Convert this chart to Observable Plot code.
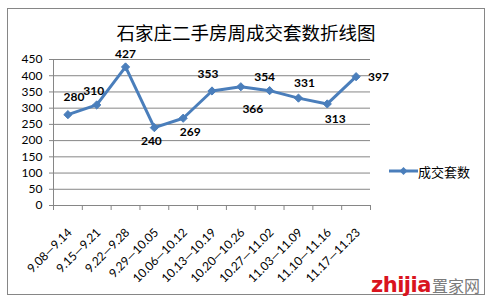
<!DOCTYPE html>
<html><head><meta charset="utf-8">
<script src="https://cdn.jsdelivr.net/npm/d3@7"></script>
<script src="https://cdn.jsdelivr.net/npm/@observablehq/plot@0.6"></script>
<style>
body{margin:0;background:#fff;}
#wrap{position:relative;width:497px;height:306px;overflow:hidden;font-family:Lato,"Noto Sans CJK SC",sans-serif;background:#fff;}
#border{position:absolute;left:7px;top:8px;width:478px;height:287px;border:1px solid #868686;box-sizing:border-box;}
#chart{position:absolute;left:0;top:0;}
#title{position:absolute;left:0;width:492px;text-align:center;top:20px;font-size:18.5px;line-height:24px;font-family:"Noto Sans CJK SC";color:#000;}
#legend{position:absolute;left:389px;top:162px;height:18px;display:flex;align-items:center;font-family:"Noto Sans CJK SC";font-size:13px;color:#000;}
#wm{position:absolute;left:371px;top:266px;height:30px;display:flex;align-items:flex-end;}
#wm .z{font-family:"DejaVu Sans";font-weight:bold;font-size:21px;color:#d9141e;letter-spacing:-0.5px;line-height:22px;}
#wm .c{font-family:"Noto Sans CJK SC";font-size:16px;color:#7a7a7a;line-height:22px;margin-left:1px;}
</style>
</head><body>
<div id="wrap">
  <div id="border"></div>
  <div id="chart"></div>
  <div id="title">石家庄二手房周成交套数折线图</div>
  <div id="legend"><svg width="29" height="10"><line x1="0" y1="5" x2="29" y2="5" stroke="#4A7EBB" stroke-width="3"/><path d="M14.5,1 L18.5,5 L14.5,9 L10.5,5 Z" fill="#4A7EBB"/></svg><span>成交套数</span></div>
  <div id="wm"><span class="z">zhijia</span><span class="c">置家网</span></div>
</div>
<script>
const weeks = ["9.08—9.14","9.15—9.21","9.22—9.28","9.29—10.05","10.06—10.12","10.13—10.19","10.20—10.26","10.27—11.02","11.03—11.09","11.10—11.16","11.17—11.23"];
const deals = [280,310,427,240,269,353,366,354,331,313,397];
const yTicks = [0,50,100,150,200,250,300,350,400,450];
const labelDx = [6,-3,0,-3,7,-4,12,-5,6,8,12];
const labelDy = [-17,-14,-13,14,14,-17,22,-13,-15,15,0];

const rows = weeks.map((w,i)=>({i, week:w, v:deals[i]}));
const boundaries = d3.range(-0.5, weeks.length, 1);
const blue = "#4A7EBB", grey = "#868686";

const labelMarks = rows.map((r,i)=>Plot.text([r], {
  x:"i", y:"v", text:d=>String(d.v),
  dx: labelDx[i], dy: labelDy[i],
  textAnchor: i===rows.length-1 ? "start" : "middle",
  fontWeight:"bold", fontSize:12, fill:"#000"
}));

const chart = Plot.plot({
  width:497, height:306,
  marginLeft:53, marginRight:127, marginTop:59, marginBottom:101,
  style:{fontFamily:"Lato, 'Noto Sans CJK SC', sans-serif", fontSize:"12px", color:"#000", background:"transparent"},
  x:{type:"linear", domain:[-0.5, weeks.length-0.5]},
  y:{domain:[0,450]},
  marks:[
    Plot.gridY({ticks:yTicks, stroke:grey, strokeOpacity:1}),
    Plot.ruleX([-0.5], {stroke:grey}),
    Plot.axisY({ticks:yTicks, tickSize:4, tickPadding:7, stroke:grey, fontSize:12, label:null}),
    Plot.axisX({ticks:boundaries, tickFormat:()=>"", tickSize:5, stroke:grey, label:null}),
    Plot.axisX({ticks:rows.map(r=>r.i), tickFormat:i=>weeks[i], tickSize:0, tickPadding:25, dx:2, tickRotate:-45, fontSize:12, label:null}),
    Plot.line(rows, {x:"i", y:"v", stroke:blue, strokeWidth:3}),
    Plot.dot(rows, {x:"i", y:"v", symbol:"diamond2", r:3.7, fill:blue, stroke:blue, strokeWidth:1}),
    ...labelMarks
  ]
});
document.getElementById("chart").appendChild(chart);
</script>
</body></html>
